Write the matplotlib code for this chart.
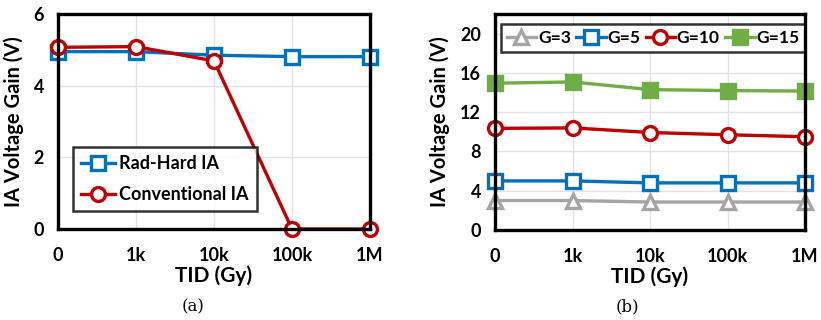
import matplotlib.pyplot as plt

# categories on the x axis
tid_labels = ["0", "1k", "10k", "100k", "1M"]

# panel (a)
rad_hard = [4.95, 4.95, 4.85, 4.81, 4.81]
conventional = [5.07, 5.09, 4.69, 0.0, 0.0]

# panel (b)
g3 = [3.0, 3.0, 2.85, 2.85, 2.85]
g5 = [5.0, 5.0, 4.8, 4.8, 4.8]
g10 = [10.35, 10.4, 9.93, 9.7, 9.5]
g15 = [14.95, 15.08, 14.3, 14.2, 14.15]

BLUE = "#0070C0"
RED = "#C00000"
GRAY = "#A5A5A5"
GREEN = "#70AD47"

plt.rcParams["font.family"] = ["Lato", "DejaVu Sans"]
plt.rcParams["font.weight"] = "bold"

fig = plt.figure(figsize=(8.21, 3.2), dpi=100)
ax_a = fig.add_axes([58 / 821, 91 / 320, 312 / 821, 215 / 320])
ax_b = fig.add_axes([495 / 821, 90 / 320, 310 / 821, 216 / 320])

x = list(range(len(tid_labels)))
line_kw = dict(lw=2.4, ms=10, mew=2.4, clip_on=False, zorder=5)


def style(ax, ymax, yticks):
    ax.set_xlim(0, len(tid_labels) - 1)
    ax.set_ylim(0, ymax)
    ax.set_xticks(x)
    ax.set_xticklabels(tid_labels)
    ax.set_yticks(yticks)
    ax.tick_params(length=0, labelsize=13)
    ax.tick_params(axis="x", pad=13)
    ax.tick_params(axis="y", pad=10)
    for s in ax.spines.values():
        s.set_linewidth(2.4)
        s.set_color("black")
        s.set_zorder(6)
    ax.grid(True, color="#E3E3E3", lw=1.0)
    ax.set_axisbelow(True)
    ax.set_xlabel("TID (Gy)", fontsize=15, fontweight="bold", labelpad=1)
    ax.set_ylabel("IA Voltage Gain (V)", fontsize=14.5, fontweight="bold", labelpad=7)


def boxed_legend(ax, **kw):
    leg = ax.legend(frameon=True, fancybox=False, edgecolor="black", borderaxespad=0, **kw)
    leg.get_frame().set_linewidth(1.8)
    return leg


# (a)
ax_a.plot(x, rad_hard, color=BLUE, marker="s", mfc="white", mec=BLUE, label="Rad-Hard IA", **line_kw)
ax_a.plot(x, conventional, color=RED, marker="o", mfc="white", mec=RED, label="Conventional IA", **line_kw)
style(ax_a, 6, [0, 2, 4, 6])
boxed_legend(ax_a, loc="lower left", bbox_to_anchor=(15 / 312, 18 / 215), fontsize=13,
             handlelength=1.9, handletextpad=0.2, labelspacing=0.75, borderpad=0.45)

# (b)
ax_b.plot(x, g3, color=GRAY, marker="^", mfc="white", mec=GRAY, label="G=3", **line_kw)
ax_b.plot(x, g5, color=BLUE, marker="s", mfc="white", mec=BLUE, label="G=5", **line_kw)
ax_b.plot(x, g10, color=RED, marker="o", mfc="white", mec=RED, label="G=10", **line_kw)
ax_b.plot(x, g15, color=GREEN, marker="s", mfc=GREEN, mec=GREEN, label="G=15", **line_kw)
style(ax_b, 22, [0, 4, 8, 12, 16, 20])
boxed_legend(ax_b, loc="upper center", bbox_to_anchor=(0.5 + 3 / 310, 1 - 10 / 216), ncol=4,
             fontsize=12.5, handlelength=1.7, handletextpad=0.1, columnspacing=0.3, borderpad=0.35)

fig.text(193 / 821, 1 - 307 / 320, "(a)", ha="center", va="center", fontsize=12,
         family="DejaVu Serif", fontweight="normal")
fig.text(627 / 821, 1 - 307 / 320, "(b)", ha="center", va="center", fontsize=12,
         family="DejaVu Serif", fontweight="normal")

fig.savefig("out.png", dpi=100)
